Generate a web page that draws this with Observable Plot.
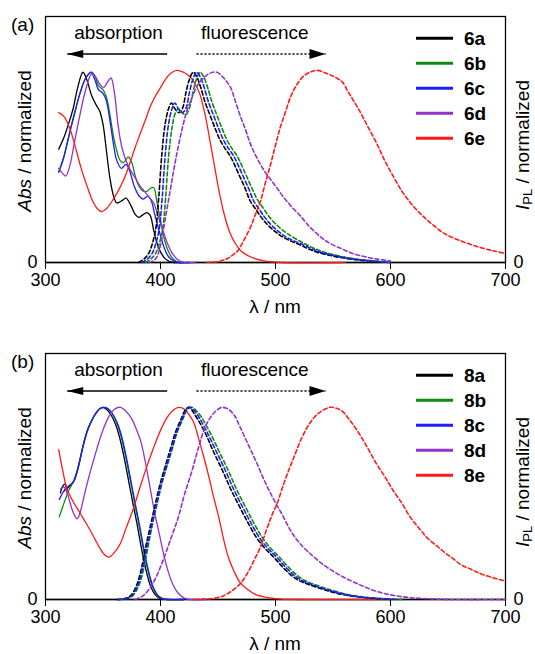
<!DOCTYPE html>
<html>
<head>
<meta charset="utf-8">
<script src="https://cdn.jsdelivr.net/npm/d3@7"></script>
<script src="https://cdn.jsdelivr.net/npm/@observablehq/plot@0.6"></script>
<style>
  html, body { margin: 0; padding: 0; background: #fff; overflow: hidden; }
  .panel { position: relative; width: 535px; height: 337px; }
  .panel svg { display: block; }
</style>
</head>
<body>
<div id="panelA" class="panel"></div>
<div id="panelB" class="panel"></div>
<script>
// ---------- shared settings ----------
const xTicks = [300, 400, 500, 600, 700];
const yTicks = [0];
const xDomain = [300, 700];
const yDomain = [0, 1.28];
const seriesColors = ["#000000", "#0e8a0e", "#1c1cff", "#9333cc", "#ff1a1a"];
const arrowLabels = ["absorption", "fluorescence"];
const arrowLabelX = [363.5, 482];
const absArrowX = [405.8, 318.9];   // from, tip
const flArrowX = [431.3, 543.5];    // from, tip

// ---------- panel (a) : compounds 6a–6e ----------
const namesA = ["6a", "6b", "6c", "6d", "6e"];
const abs6a = [[311.5,0.59],[316,0.65],[320,0.72],[324,0.80],[328,0.91],[332.5,0.99],[336,0.95],[340,0.87],[344,0.82],[347,0.79],[350,0.72],[353,0.58],[356,0.44],[359,0.35],[362,0.31],[366,0.32],[370,0.335],[374,0.30],[378,0.25],[381,0.235],[384,0.245],[388,0.26],[391,0.245],[394,0.17],[397,0.10],[400,0.055],[404,0.02],[408,0.005],[412,0],[420,0]];
const abs6b = [[311.5,0.47],[316,0.55],[320,0.65],[325,0.77],[330,0.88],[335,0.96],[340,0.99],[343,0.97],[346,0.92],[350,0.90],[353,0.86],[356,0.77],[359,0.66],[362,0.58],[365,0.53],[368,0.52],[372,0.55],[375,0.52],[378,0.45],[381,0.40],[384,0.375],[388,0.37],[391,0.385],[394,0.39],[397,0.31],[400,0.22],[403,0.13],[406,0.07],[410,0.025],[414,0.005],[418,0],[425,0]];
const abs6c = [[311.5,0.47],[316,0.55],[320,0.65],[325,0.77],[330,0.88],[335,0.96],[339.5,0.99],[343,0.95],[346,0.90],[350,0.88],[353,0.84],[356,0.74],[359,0.62],[362,0.53],[366,0.49],[370,0.51],[373,0.48],[377,0.40],[381,0.35],[385,0.33],[389,0.345],[392,0.32],[395,0.25],[399,0.16],[403,0.08],[407,0.03],[411,0.01],[416,0],[425,0]];
const abs6d = [[311.5,0.49],[314,0.47],[317.5,0.45],[321,0.50],[325,0.62],[330,0.77],[335,0.90],[340,0.98],[343,0.97],[347,0.93],[350.5,0.91],[354,0.94],[357,0.96],[360,0.88],[363,0.72],[366,0.61],[370,0.53],[374,0.48],[378,0.44],[382,0.40],[386,0.37],[390,0.34],[394,0.31],[398,0.24],[402,0.17],[406,0.10],[410,0.05],[414,0.02],[420,0],[430,0]];
const abs6e = [[311.5,0.78],[316,0.76],[321,0.70],[326,0.60],[331,0.49],[336,0.40],[341,0.32],[345,0.28],[349,0.265],[353,0.28],[358,0.32],[363,0.37],[368,0.43],[373,0.51],[378,0.60],[383,0.68],[388,0.76],[391,0.81],[395,0.86],[400,0.91],[404,0.95],[408,0.98],[414,1.0],[420,0.99],[425,0.97],[429,0.94],[434,0.88],[438,0.79],[441,0.70],[444,0.60],[447,0.50],[450,0.40],[455,0.26],[460,0.16],[464,0.11],[470,0.06],[478,0.03],[490,0.008],[505,0],[560,0]];
const fl6a = [[381,0],[386,0.02],[390,0.05],[393,0.1],[396,0.18],[398.5,0.34],[401,0.55],[404,0.72],[407,0.8],[409.5,0.83],[412.5,0.8],[416,0.78],[419,0.8],[422,0.88],[425,0.95],[428.5,0.99],[432,0.96],[435,0.91],[439,0.83],[443.5,0.76],[448,0.69],[452,0.635],[456.5,0.59],[461,0.55],[465,0.50],[469.5,0.44],[474,0.38],[478,0.32],[482.5,0.28],[487,0.24],[491,0.21],[496,0.18],[501,0.155],[507,0.13],[514,0.11],[522,0.09],[529,0.07],[536,0.054],[548,0.036],[560,0.022],[575,0.011],[600,0]];
const fl6b = [[387,0],[392,0.02],[396,0.05],[399,0.1],[402,0.18],[404.5,0.34],[407,0.55],[410,0.70],[413,0.78],[415.5,0.80],[418.5,0.78],[422,0.77],[425,0.8],[428,0.88],[431,0.95],[434.5,0.99],[438,0.96],[441,0.91],[445,0.83],[449.5,0.76],[454,0.69],[458,0.635],[462.5,0.59],[467,0.55],[471,0.50],[475.5,0.44],[480,0.38],[484,0.33],[488.5,0.29],[493,0.25],[497,0.22],[502,0.19],[507,0.165],[513,0.14],[520,0.115],[528,0.09],[535,0.07],[542,0.055],[554,0.036],[566,0.022],[581,0.011],[600,0]];
const fl6c = [[384,0],[389,0.02],[393,0.05],[396,0.1],[399,0.18],[401.5,0.34],[404,0.55],[407,0.72],[410,0.8],[412.5,0.83],[415.5,0.8],[419,0.78],[422,0.8],[425,0.88],[428,0.95],[431.5,0.99],[435,0.96],[438,0.91],[442,0.83],[446.5,0.76],[451,0.69],[455,0.635],[459.5,0.59],[464,0.55],[468,0.50],[472.5,0.44],[477,0.38],[481,0.32],[485.5,0.28],[490,0.24],[494,0.21],[499,0.18],[504,0.155],[510,0.13],[517,0.11],[525,0.09],[532,0.07],[539,0.054],[551,0.036],[563,0.022],[578,0.011],[600,0]];
const fl6d = [[390,0],[394,0.01],[397,0.03],[401,0.12],[404.5,0.24],[408,0.36],[411.5,0.48],[415,0.59],[419,0.70],[423,0.79],[427.5,0.86],[432,0.92],[437.5,0.96],[443,0.985],[449,0.99],[455,0.96],[461,0.91],[465,0.84],[469.5,0.76],[474,0.69],[478,0.62],[482.5,0.56],[487,0.51],[491,0.47],[496,0.43],[501,0.39],[507,0.34],[514,0.29],[522,0.24],[529,0.19],[536,0.15],[542,0.12],[548,0.097],[558,0.07],[568,0.045],[578,0.03],[588,0.018],[600,0.008]];
const fl6e = [[440,0],[450,0.005],[458,0.02],[463,0.04],[467,0.06],[472,0.11],[478,0.18],[482.5,0.25],[487,0.32],[491,0.41],[495.7,0.51],[500,0.61],[504,0.70],[508.5,0.78],[513,0.86],[518,0.92],[524.5,0.97],[530,0.99],[536,1.0],[542,0.99],[548,0.975],[553,0.96],[558,0.94],[563,0.89],[568,0.84],[573,0.79],[580,0.71],[588,0.62],[595,0.53],[602.7,0.445],[610,0.37],[617.5,0.31],[625,0.26],[632,0.22],[640,0.18],[647,0.15],[660,0.115],[677,0.08],[690,0.06],[700,0.047]];

// ---------- panel (b) : compounds 8a–8e ----------
const namesB = ["8a", "8b", "8c", "8d", "8e"];
const abs8a = [[313,0.555],[315,0.59],[317,0.60],[318,0.58],[316.5,0.565],[318.5,0.575],[321,0.59],[325,0.62],[329,0.70],[333,0.81],[337,0.89],[341,0.94],[345,0.98],[349.5,1.0],[353,0.99],[357,0.96],[361,0.91],[365,0.83],[369,0.72],[372.5,0.61],[376,0.50],[379.7,0.39],[383,0.28],[386,0.19],[389,0.115],[392,0.06],[396,0.02],[400,0.005],[405,0],[420,0]];
const abs8b = [[312,0.43],[316,0.50],[320,0.565],[324,0.61],[328,0.68],[332,0.78],[336,0.87],[340,0.93],[344,0.97],[348,0.995],[351,1.0],[354.5,0.99],[358.5,0.96],[362.5,0.91],[366.5,0.83],[370.5,0.72],[374,0.61],[377.5,0.50],[381.2,0.39],[384.5,0.28],[387.5,0.19],[390.5,0.115],[393.5,0.06],[397.5,0.02],[401.5,0.005],[406,0],[420,0]];
const abs8c = [[312,0.52],[316,0.565],[320,0.59],[324,0.61],[328,0.68],[332,0.78],[336,0.87],[340,0.93],[344,0.97],[348,0.995],[351.5,1.0],[355,0.99],[359,0.96],[363,0.91],[367,0.83],[371,0.72],[374.5,0.61],[378,0.50],[381.7,0.39],[385,0.28],[388,0.19],[391,0.115],[394,0.06],[398,0.02],[402,0.005],[407,0],[420,0]];
const abs8d = [[313,0.575],[316,0.585],[319,0.55],[322,0.49],[325,0.44],[327.5,0.42],[330,0.45],[334,0.55],[338.5,0.655],[343,0.75],[347,0.83],[350.5,0.89],[355,0.95],[360,0.99],[365,1.0],[370,0.98],[375,0.94],[380,0.87],[383,0.82],[387,0.71],[391,0.58],[395,0.45],[399,0.34],[403,0.23],[407,0.14],[411,0.075],[415,0.035],[420,0.01],[425,0],[440,0]];
const abs8e = [[311.5,0.78],[315,0.67],[319,0.57],[324,0.51],[330,0.45],[336,0.39],[342,0.325],[347,0.27],[351,0.235],[355,0.22],[360,0.245],[365,0.29],[370,0.37],[376.8,0.48],[382,0.58],[388,0.69],[394,0.79],[400,0.88],[405,0.94],[410,0.98],[416,1.0],[421,0.99],[425,0.96],[429,0.92],[433,0.84],[437.7,0.74],[442,0.64],[446.3,0.53],[451,0.42],[455,0.31],[459,0.22],[463.7,0.15],[469,0.09],[475,0.056],[483,0.025],[493,0.01],[505,0.002],[520,0],[600,0]];
const fl8a = [[362,0],[369,0.005],[374,0.02],[379,0.07],[383,0.15],[387,0.27],[391.5,0.39],[396,0.51],[400.5,0.62],[405,0.71],[409,0.79],[413,0.87],[418,0.94],[422,0.99],[425,1.0],[430,0.96],[439,0.865],[446,0.77],[454,0.67],[461,0.575],[469,0.48],[476,0.40],[483.7,0.32],[491,0.265],[498.5,0.22],[506,0.17],[513,0.13],[520,0.10],[528,0.08],[543,0.05],[558,0.026],[572,0.013],[587,0.005],[600,0]];
const fl8b = [[364,0],[371,0.005],[376,0.02],[381,0.07],[385,0.15],[389,0.27],[393,0.39],[397.5,0.51],[402,0.62],[406.5,0.71],[410.5,0.79],[414.5,0.87],[419.5,0.94],[423.5,0.99],[427,1.0],[433,0.97],[443,0.87],[451,0.77],[459,0.67],[466,0.575],[474,0.48],[481,0.40],[488.7,0.32],[496,0.265],[503.5,0.22],[511,0.17],[518,0.13],[525,0.10],[533,0.08],[548,0.05],[563,0.026],[577,0.013],[592,0.005],[610,0]];
const fl8c = [[363,0],[370,0.005],[375,0.02],[380,0.07],[384,0.15],[388,0.27],[392.5,0.39],[397,0.51],[401.5,0.62],[406,0.71],[410,0.79],[414,0.87],[419,0.94],[423,0.99],[426,1.0],[431.5,0.965],[441,0.865],[448.5,0.77],[456.5,0.67],[463.5,0.575],[471.5,0.48],[478.5,0.40],[486.2,0.32],[493.5,0.265],[501,0.22],[508.5,0.17],[515.5,0.13],[522.5,0.10],[530.5,0.08],[545.5,0.05],[560.5,0.026],[574.5,0.013],[589.5,0.005],[605,0]];
const fl8d = [[378,0],[385,0.02],[393,0.08],[400.7,0.18],[408,0.30],[415.6,0.43],[421,0.55],[427.4,0.67],[433,0.79],[439,0.90],[445,0.96],[450,0.99],[454,1.0],[459,0.99],[464,0.96],[469,0.90],[476,0.81],[483.7,0.71],[491,0.61],[498.5,0.52],[506,0.44],[513,0.36],[520,0.30],[528,0.25],[543,0.175],[558,0.12],[572,0.08],[587,0.044],[602,0.022],[617,0.01],[635,0.003],[655,0],[700,0]];
const fl8e = [[430,0],[445,0.005],[455,0.02],[462,0.045],[469,0.08],[475,0.13],[481,0.20],[486.7,0.27],[492,0.36],[497,0.44],[501.5,0.5],[507,0.60],[512,0.68],[516,0.74],[522,0.83],[528,0.9],[534,0.95],[540,0.98],[547.4,1.0],[553,0.995],[558,0.98],[565,0.93],[572.6,0.865],[580,0.79],[587.4,0.71],[595,0.64],[602,0.57],[610,0.50],[617,0.43],[625,0.37],[632,0.32],[640,0.28],[647,0.245],[655,0.21],[661.5,0.18],[669,0.16],[676,0.14],[688,0.115],[700,0.096]];

// ---------- drawing ----------
const FONT = "'Liberation Sans', Arial, Helvetica, sans-serif";

function headSymbol(dir, halfH) {
  return {
    draw(ctx, size) {
      const r = Math.sqrt(size / Math.PI);
      const L = 3.2 * r, H = halfH * r;
      ctx.moveTo(0, 0);
      ctx.lineTo(-dir * L, -H);
      ctx.lineTo(-dir * L, H);
      ctx.closePath();
    }
  };
}

function makePanel(host, letter, names, absSets, flSets) {
  const lineMarks = [];
  absSets.forEach((d, i) => lineMarks.push(Plot.line(d, {
    x: p => p[0], y: p => p[1], stroke: seriesColors[i], strokeWidth: 1.3, curve: "catmull-rom"
  })));
  flSets.forEach((d, i) => lineMarks.push(Plot.line(d, {
    x: p => p[0], y: p => p[1], stroke: seriesColors[i], strokeWidth: 1.6,
    strokeDasharray: "4,2.6", curve: "catmull-rom"
  })));
  const labelY = 1.197, arrowY = 1.085;
  const chart = Plot.plot({
    width: 535, height: 337,
    marginLeft: 45, marginRight: 30, marginTop: 16, marginBottom: 75,
    style: { fontFamily: FONT, fontSize: "18px", color: "black", background: "white", overflow: "visible" },
    x: { domain: xDomain, ticks: xTicks, tickSize: 7, tickPadding: 4, label: null, tickFormat: d => String(d) },
    y: { domain: yDomain, ticks: yTicks, tickSize: 0, tickPadding: 8, label: null, axis: "both", tickFormat: d => String(d) },
    marks: [
      Plot.frame({ stroke: "#000", strokeWidth: 1.3 }),
      Plot.ruleY([yDomain[0]], { stroke: "#000", strokeWidth: 1.6 }),
      ...lineMarks,
      Plot.text(arrowLabels, { x: (d, i) => arrowLabelX[i], y: () => labelY, text: d => d, fontSize: 19, fill: "black" }),
      Plot.link([absArrowX], { x1: d => d[0], x2: d => d[1], y1: () => arrowY, y2: () => arrowY, stroke: "black", strokeWidth: 1.4 }),
      Plot.link([flArrowX], { x1: d => d[0], x2: d => d[1], y1: () => arrowY, y2: () => arrowY, stroke: "black", strokeWidth: 1.4, strokeDasharray: "2,2" }),
      Plot.dot([absArrowX[1]], { x: d => d, y: () => arrowY, r: 5, symbol: headSymbol(-1, 0.8), fill: "black", stroke: "none" }),
      Plot.dot([flArrowX[1]], { x: d => d, y: () => arrowY, r: 5, symbol: headSymbol(1, 1.0), fill: "black", stroke: "none" })
    ]
  });
  const svg = d3.select(chart);
  const sx = chart.scale("x");
  const fx0 = sx.apply(xDomain[0]), fx1 = sx.apply(xDomain[1]);
  // panel letter
  svg.append("text").attr("x", 11).attr("y", 31).attr("text-anchor", "start")
    .attr("font-size", 19).attr("font-family", FONT).text(letter);
  // x label
  svg.append("text").attr("x", (fx0 + fx1) / 2).attr("y", 313).attr("text-anchor", "middle")
    .attr("font-size", 19).attr("font-family", FONT).text("λ / nm");
  // left y label
  const yl = svg.append("text").attr("transform", "translate(31,141) rotate(-90)")
    .attr("text-anchor", "middle").attr("font-size", 19).attr("font-family", FONT);
  yl.append("tspan").attr("font-style", "italic").text("Abs");
  yl.append("tspan").text(" / normalized");
  // right y label
  const yr = svg.append("text").attr("transform", "translate(529,145) rotate(-90)")
    .attr("text-anchor", "middle").attr("font-size", 19).attr("font-family", FONT);
  yr.append("tspan").attr("font-style", "italic").text("I");
  yr.append("tspan").attr("font-size", 13).attr("dy", 3).text("PL");
  yr.append("tspan").attr("dy", -3).text(" / normalized");
  // legend
  names.forEach((n, i) => {
    const cy = 38.3 + 25 * i;
    svg.append("line").attr("x1", 416).attr("x2", 453).attr("y1", cy).attr("y2", cy)
      .attr("stroke", seriesColors[i]).attr("stroke-width", 3);
    svg.append("text").attr("x", 464).attr("y", cy).attr("dy", "0.35em").attr("text-anchor", "start")
      .attr("font-size", 19).attr("font-weight", "bold").attr("font-family", FONT).text(n);
  });
  host.appendChild(chart);
}

makePanel(document.getElementById("panelA"), "(a)", namesA, [abs6a, abs6b, abs6c, abs6d, abs6e], [fl6a, fl6b, fl6c, fl6d, fl6e]);
makePanel(document.getElementById("panelB"), "(b)", namesB, [abs8a, abs8b, abs8c, abs8d, abs8e], [fl8a, fl8b, fl8c, fl8d, fl8e]);
</script>
</body>
</html>
